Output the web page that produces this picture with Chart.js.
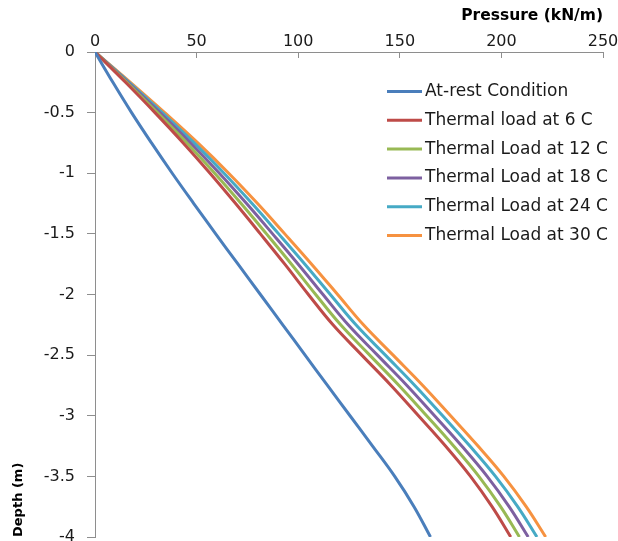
<!DOCTYPE html>
<html>
<head>
<meta charset="utf-8">
<title>Pressure vs Depth</title>
<script src="https://cdn.jsdelivr.net/npm/chart.js@4/dist/chart.umd.min.js"></script>
<style>
  html, body { margin: 0; padding: 0; background: #fff; }
  #chart { display: block; }
</style>
</head>
<body>
<canvas id="chart" width="618" height="541"></canvas>
<script>
// Data
////////////////////////////////////////////////////////////
const depths = [0, -0.25, -0.5, -0.75, -1, -1.25, -1.5, -1.75, -2, -2.25, -2.5, -2.75, -3, -3.25, -3.5, -3.75, -4];

const atRest    = [0, 8.8, 18.0, 27.8, 38.0, 48.6, 59.4, 70.4, 81.4, 92.4, 103.4, 114.4, 125.5, 136.6, 147.5, 157.0, 165.1];
const thermal6  = [0, 15.0, 29.5, 43.4, 56.6, 69.2, 81.4, 93.4, 105.0, 117.1, 131.3, 145.7, 159.2, 172.5, 184.8, 195.4, 204.6];
const thermal12 = [0, 15.6, 30.7, 45.2, 58.9, 71.9, 84.4, 96.7, 108.6, 120.9, 135.2, 149.6, 163.2, 176.5, 188.9, 199.6, 208.9];
const thermal18 = [0, 16.2, 31.9, 47.0, 61.2, 74.6, 87.4, 100.0, 112.2, 124.6, 139.0, 153.5, 167.1, 180.5, 193.0, 203.8, 213.2];
const thermal24 = [0, 16.8, 33.1, 48.8, 63.5, 77.3, 90.4, 103.3, 115.8, 128.4, 142.9, 157.4, 171.1, 184.5, 197.1, 208.0, 217.5];
const thermal30 = [0, 17.4, 34.3, 50.6, 65.8, 80.0, 93.4, 106.6, 119.4, 132.1, 146.7, 161.3, 175.0, 188.5, 201.2, 212.2, 221.8];

const seriesLabels = ['At-rest Condition', 'Thermal load at 6 C', 'Thermal Load at 12 C',
                      'Thermal Load at 18 C', 'Thermal Load at 24 C', 'Thermal Load at 30 C'];
const seriesValues = [atRest, thermal6, thermal12, thermal18, thermal24, thermal30];
const seriesColours = ['#4a7ebb', '#be4b48', '#98b954', '#7d60a0', '#46aac5', '#f69240'];

const pressureTicks = [0, 50, 100, 150, 200, 250];
const depthTicks = [0, -0.5, -1, -1.5, -2, -2.5, -3, -3.5, -4];

// Helpers
////////////////////////////////////////////////////////////
function toPoints(values) {
    return values.map((v, i) => ({ x: v, y: depths[i] }));
}

const axisGrey = '#8e8e8e';
const tickFont = { family: 'DejaVu Sans', size: 16 };

// legend drawn inside the plot, Excel style
const insideLegend = {
    id: 'insideLegend',
    afterDraw(chart) {
        const ctx = chart.ctx;
        const area = chart.chartArea;
        ctx.save();
        ctx.font = '17px "DejaVu Sans"';
        ctx.textBaseline = 'middle';
        ctx.textAlign = 'left';
        chart.data.datasets.forEach((ds, i) => {
            const y = area.top + 39.5 + i * 28.8;
            const x = area.left + 292;
            ctx.strokeStyle = ds.borderColor;
            ctx.lineWidth = 3;
            ctx.beginPath();
            ctx.moveTo(x, y);
            ctx.lineTo(x + 35, y);
            ctx.stroke();
            ctx.fillStyle = '#1a1a1a';
            ctx.fillText(ds.label, x + 38, y);
        });
        ctx.restore();
    }
};

const datasets = seriesValues.map((vals, i) => ({
    label: seriesLabels[i],
    data: toPoints(vals),
    showLine: true,
    borderColor: seriesColours[i],
    backgroundColor: seriesColours[i],
    borderWidth: 3,
    pointRadius: 0,
    tension: 0.4,
    fill: false
}));

const config = {
    type: 'scatter',
    data: { datasets: datasets },
    options: {
        responsive: false,
        animation: false,
        devicePixelRatio: 1,
        layout: { padding: { left: 0, right: 15, top: 0, bottom: 4 } },
        plugins: {
            legend: { display: false },
            tooltip: { enabled: false }
        },
        scales: {
            x: {
                type: 'linear',
                position: 'top',
                min: 0,
                max: 250,
                afterBuildTicks: scale => { scale.ticks = pressureTicks.map(v => ({ value: v })); },
                grid: { drawOnChartArea: false, color: axisGrey, tickLength: -6 },
                border: { color: axisGrey, width: 1 },
                ticks: { font: tickFont, color: '#1a1a1a', padding: 7, maxRotation: 0,
                         callback: v => String(v) },
                title: {
                    display: true,
                    text: 'Pressure (kN/m)',
                    align: 'end',
                    color: '#000',
                    font: { family: 'DejaVu Sans', size: 15.5, weight: 'bold' },
                    padding: { top: 7, bottom: 0 }
                },
                afterFit: scale => {
                    scale.height = 52;
                    scale.paddingLeft = 0;
                    scale.paddingRight = 0;
                }
            },
            y: {
                type: 'linear',
                position: 'left',
                min: -4,
                max: 0,
                afterBuildTicks: scale => { scale.ticks = depthTicks.map(v => ({ value: v })); },
                grid: { drawOnChartArea: false, color: axisGrey, tickLength: 8 },
                border: { color: axisGrey, width: 1 },
                ticks: { font: tickFont, color: '#1a1a1a', padding: 12,
                         callback: v => String(v) },
                title: {
                    display: true,
                    text: 'Depth (m)',
                    align: 'start',
                    color: '#000',
                    font: { family: 'DejaVu Sans', size: 13, weight: 'bold' },
                    padding: { top: 11, bottom: 0 }
                },
                afterFit: scale => {
                    scale.width = 95;
                    scale.paddingTop = 0;
                    scale.paddingBottom = 0;
                }
            }
        }
    },
    plugins: [insideLegend]
};

const myChart = new Chart(document.getElementById('chart'), config);
</script>
</body>
</html>
